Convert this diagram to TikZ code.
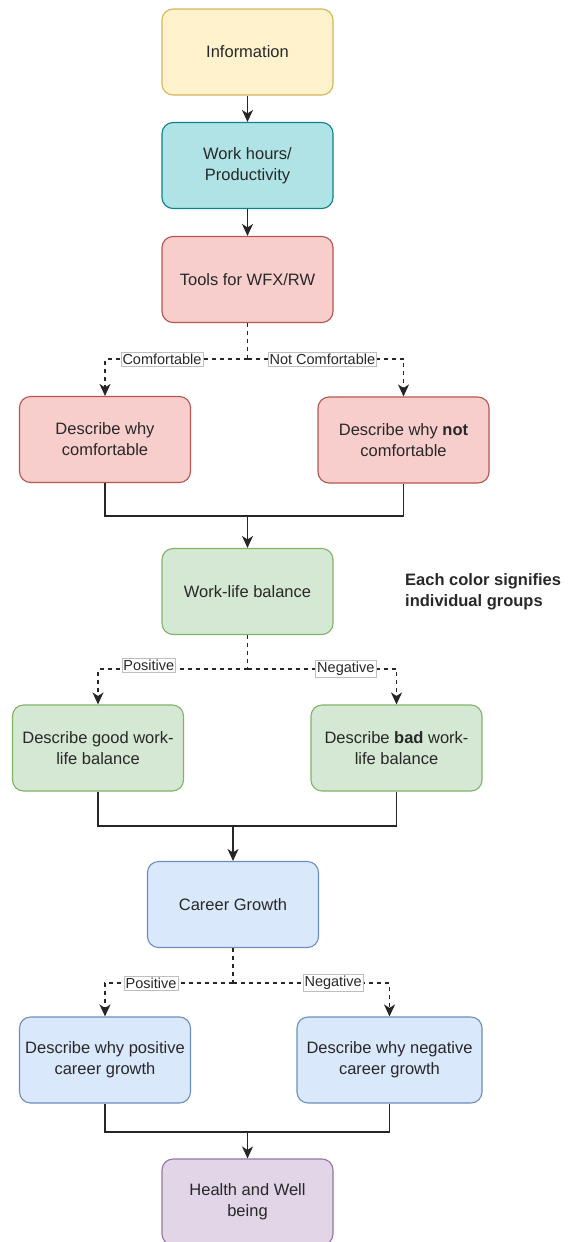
\documentclass[tikz,border=0pt]{standalone}
\usepackage{fontspec}
\setmainfont{Liberation Sans}
\usetikzlibrary{arrows.meta}
\definecolor{yellowf}{HTML}{FFF2CC}
\definecolor{yellowd}{HTML}{D6B656}
\definecolor{tealf}{HTML}{B0E3E6}
\definecolor{teald}{HTML}{0E8088}
\definecolor{redf}{HTML}{F8CECC}
\definecolor{redd}{HTML}{B85450}
\definecolor{greenf}{HTML}{D5E8D4}
\definecolor{greend}{HTML}{82B366}
\definecolor{bluef}{HTML}{DAE8FC}
\definecolor{blued}{HTML}{6C8EBF}
\definecolor{purplef}{HTML}{E1D5E7}
\definecolor{purpled}{HTML}{9673A6}
\definecolor{textc}{RGB}{40,40,40}
\definecolor{lblbord}{RGB}{190,190,190}

\begin{document}
\begin{tikzpicture}[x=1pt, y=-1pt,
		>={Stealth[length=12pt,width=11pt,inset=3.5pt]},
		box/.style={draw, rounded corners=11pt, line width=1.1pt, minimum width=171pt, minimum height=86pt, inner sep=0pt, align=center, text=textc, font=\fontsize{16.5}{21}\selectfont},
		elabel/.style={draw=lblbord, solid, fill=white, line width=0.6pt, inner sep=1.5pt, text=textc, font=\fontsize{14.5}{16}\selectfont},
		conn/.style={line width=1.3pt, draw=black!85},
		dashconn/.style={conn, dash pattern=on 4pt off 4pt}]
		\useasboundingbox (0,0) rectangle (575,1242);
		
		\node[box, fill=yellowf, draw=yellowd] (info) at (247.5,52) {Information};
		\node[box, fill=tealf, draw=teald] (work) at (247.5,165.5) {Work hours/\\Productivity};
		\node[box, fill=redf, draw=redd] (tools) at (247.5,279.5) {Tools for WFX/RW};
		\node[box, fill=redf, draw=redd] (comf) at (105,439.5) {Describe why\\comfortable};
		\node[box, fill=redf, draw=redd] (ncomf) at (403.5,440) {Describe why \textbf{not}\\comfortable};
		\node[box, fill=greenf, draw=greend] (wlb) at (247.5,591.5) {Work-life balance};
		\node[box, fill=greenf, draw=greend] (good) at (98,748) {Describe good work-\\life balance};
		\node[box, fill=greenf, draw=greend] (bad) at (396.5,748) {Describe \textbf{bad} work-\\life balance};
		\node[box, fill=bluef, draw=blued] (career) at (233,904.5) {Career Growth};
		\node[box, fill=bluef, draw=blued] (posg) at (105,1060) {Describe why positive\\career growth};
		\node[box, fill=bluef, draw=blued, minimum width=185pt] (negg) at (389.5,1060) {Describe why negative\\career growth};
		\node[box, fill=purplef, draw=purpled] (health) at (247.5,1202) {Health and Well\\being};
		
		\node[anchor=west, align=left, inner sep=0pt, text=textc, font=\fontsize{16.5}{21}\selectfont\bfseries] (note) at (405,592) {Each color signifies\\individual groups};
		
		\coordinate (j1) at (247.5,359);
		\coordinate (j2) at (247.5,669);
		\coordinate (j3) at (233,983);
		\coordinate (m1) at (247.5,516);
		\coordinate (m2) at (233,826);
		\coordinate (m3) at (247.5,1132);
		
		\draw[conn, ->] (info) -- (work);
		\draw[conn, ->] (work) -- (tools);
		
		\draw[dashconn] (tools.south) -- (j1);
		\draw[dashconn, ->] (j1) -| node[elabel, pos=.3] {Comfortable} (comf.north);
		\draw[dashconn, ->] (j1) -| node[elabel, pos=.24] {Not Comfortable} (ncomf.north);
		
		\draw[conn] (comf.south) |- (m1);
		\draw[conn] (ncomf.south) |- (m1);
		\draw[conn, ->] (m1) -- (wlb.north);
		
		\draw[dashconn] (wlb.south) -- (j2);
		\draw[dashconn, ->] (j2) -| node[elabel, pos=.33, yshift=4pt] {Positive} (good.north);
		\draw[dashconn, ->] (j2) -| node[elabel, pos=.33] {Negative} (bad.north);
		
		\draw[conn] (good.south) |- (m2);
		\draw[conn] (bad.south) |- (m2);
		\draw[conn, ->] (m2) -- (career.north);
		
		\draw[dashconn] (career.south) -- (j3);
		\draw[dashconn, ->] (j3) -| node[elabel, pos=.32] {Positive} (posg.north);
		\draw[dashconn, ->] (j3) -| node[elabel, pos=.32] {Negative} (negg.north);
		
		\draw[conn] (posg.south) |- (m3);
		\draw[conn] (negg.south) |- (m3);
		\draw[conn, ->] (m3) -- (health.north);
		
		\end{tikzpicture}
\end{document}
